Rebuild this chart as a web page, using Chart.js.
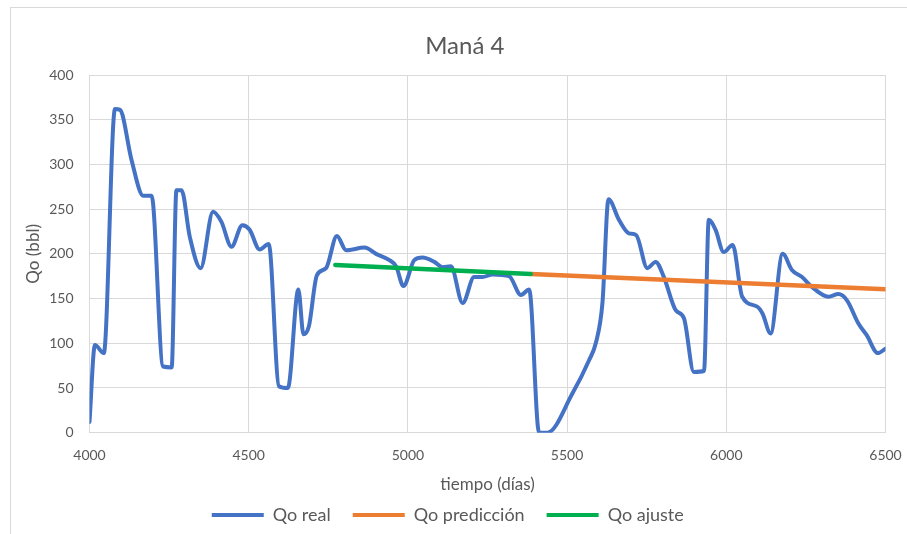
<!DOCTYPE html>
<html>
<head>
<meta charset="utf-8">
<script src="https://cdn.jsdelivr.net/npm/chart.js@4.4.1/dist/chart.umd.min.js"></script>
<style>
  html, body { margin: 0; padding: 0; background: #fff; }
  #wrap { position: relative; width: 907px; height: 534px; overflow: hidden; }
  #marco { position: absolute; left: 10px; top: 7px; width: 1000px; height: 600px;
           border-left: 1px solid #d9d9d9; border-top: 1px solid #d9d9d9; }
  canvas { position: absolute; left: 0; top: 0; }
</style>
</head>
<body>
<div id="wrap">
  <div id="marco"></div>
  <canvas id="grafico" width="907" height="534"></canvas>
</div>
<script>
// Qo real
const diasReal = [4000, 4017, 4045, 4080, 4096, 4132, 4169, 4195, 4231, 4258, 4273, 4289, 4315, 4349,
  4388, 4414, 4446, 4480, 4503, 4534, 4563, 4595, 4623, 4656, 4672, 4689, 4714, 4743, 4777, 4806,
  4864, 4900, 4942, 4963, 4986, 5020, 5046, 5083, 5109, 5135, 5172, 5208, 5234, 5266, 5318, 5355,
  5381, 5412, 5438, 5517, 5569, 5590, 5611, 5630, 5663, 5694, 5717, 5752, 5778, 5804, 5841, 5867,
  5898, 5930, 5945, 5966, 5992, 6020, 6050, 6097, 6114, 6139, 6177, 6206, 6238, 6269, 6321, 6352,
  6379, 6415, 6441, 6476, 6500];
const qoReal = [12, 98, 89, 362, 361, 305, 265, 265, 74, 73, 271, 271, 219, 184,
  247, 236, 208, 232, 227, 205, 211, 52, 50, 160, 110, 119, 176, 184, 220, 204,
  207, 200, 193, 186, 164, 193, 196, 191, 185, 186, 145, 174, 174, 177, 175, 154,
  160, 0, 0, 44, 81, 100, 145, 261, 238, 223, 221, 184, 191, 174, 137, 128,
  68, 69, 238, 227, 202, 210, 152, 141, 133, 111, 200, 182, 174, 163, 152, 155,
  148, 122, 109, 89, 94];

// Qo predicción
const diasPrediccion = [5386, 6500];
const qoPrediccion = [177.5, 160.5];

// Qo ajuste
const diasAjuste = [4772, 5386];
const qoAjuste = [187.6, 177.5];

const ejeX = { min: 4000, max: 6500, paso: 500 };
const ejeY = { min: 0, max: 400, paso: 50 };

const puntos = (xs, ys) => xs.map((x, i) => ({ x: x, y: ys[i] }));

const gris = "#595959";
const fuente = "Lato, 'Liberation Sans', sans-serif";

// mover el título un poco a la derecha, como en el original
const moverTitulo = {
  id: "moverTitulo",
  afterLayout(chart) {
    const t = chart.titleBlock;
    if (t) { t.left += 17; t.right += 17; }
  }
};

const ctx = document.getElementById("grafico").getContext("2d");
const grafico = new Chart(ctx, {
  type: "scatter",
  data: {
    datasets: [{
      label: "Qo real",
      data: puntos(diasReal, qoReal),
      borderColor: "#4472C4",
      backgroundColor: "#4472C4",
      borderWidth: 4,
      order: 3,
    }, {
      label: "Qo predicción",
      data: puntos(diasPrediccion, qoPrediccion),
      borderColor: "#ED7D31",
      backgroundColor: "#ED7D31",
      borderWidth: 4.5,
      order: 2,
    }, {
      label: "Qo ajuste",
      data: puntos(diasAjuste, qoAjuste),
      borderColor: "#00B050",
      backgroundColor: "#00B050",
      borderWidth: 4.5,
      order: 1,
    }],
  },
  options: {
    responsive: false,
    animation: false,
    showLine: true,
    layout: { padding: { left: 10, right: 21.5, top: 7, bottom: 0 } },
    elements: {
      point: { radius: 0, hoverRadius: 0 },
      line: { cubicInterpolationMode: "monotone", borderCapStyle: "round", borderJoinStyle: "round" },
    },
    plugins: {
      title: {
        display: true,
        text: "Maná 4",
        color: gris,
        font: { family: fuente, size: 24, weight: "normal" },
        padding: { top: 24.6, bottom: 14.6 },
      },
      legend: {
        position: "bottom",
        labels: {
          color: gris,
          font: { family: fuente, size: 18 },
          boxWidth: 52,
          boxHeight: 4,
          padding: 22,
          sort: (a, b) => a.datasetIndex - b.datasetIndex,
          generateLabels(chart) {
            return Chart.defaults.plugins.legend.labels.generateLabels(chart).map(l => {
              l.lineWidth = 0;
              return l;
            });
          },
        },
      },
      tooltip: { enabled: false },
    },
    scales: {
      x: {
        type: "linear",
        min: ejeX.min,
        max: ejeX.max,
        afterFit(scale) {
          scale.height = 51.3;
          scale.paddingLeft = 0;
          scale.paddingRight = 0;
        },
        ticks: {
          stepSize: ejeX.paso,
          color: gris,
          font: { family: fuente, size: 14 },
          padding: 14,
          maxRotation: 0,
          callback: v => String(v),
        },
        grid: { color: "#d9d9d9", lineWidth: 1, drawTicks: false },
        border: { color: "#d9d9d9" },
        title: {
          display: true,
          text: "tiempo (días)",
          color: gris,
          font: { family: fuente, size: 17 },
          padding: { top: 0, bottom: -11.2 },
        },
      },
      y: {
        type: "linear",
        min: ejeY.min,
        max: ejeY.max,
        afterFit(scale) { scale.width = 79.5; },
        ticks: {
          stepSize: ejeY.paso,
          color: gris,
          font: { family: fuente, size: 14 },
          padding: 16,
          callback: v => String(v),
        },
        grid: { color: "#d9d9d9", lineWidth: 1, drawTicks: false },
        border: { color: "#d9d9d9" },
        title: {
          display: true,
          text: "Qo (bbl)",
          color: gris,
          font: { family: fuente, size: 17 },
          padding: { top: 13.3, bottom: 0 },
        },
      },
    },
  },
  plugins: [moverTitulo],
});
</script>
</body>
</html>
